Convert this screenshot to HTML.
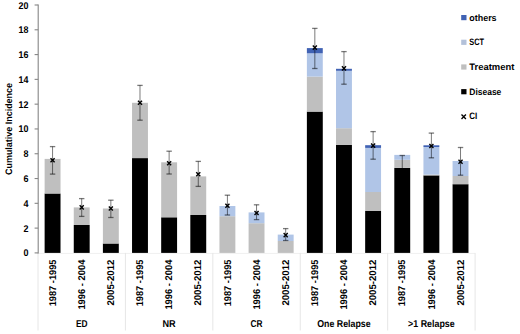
<!DOCTYPE html>
<html><head><meta charset="utf-8"><style>
html,body{margin:0;padding:0;background:#fff;}
body{width:520px;height:334px;overflow:hidden;font-family:"Liberation Sans",sans-serif;}
svg{display:block;text-rendering:geometricPrecision;}
</style></head><body>
<svg width="520" height="334" viewBox="0 0 520 334">
<rect x="0" y="0" width="520" height="334" fill="#ffffff"/>
<line x1="38.0" y1="253.40" x2="475.10" y2="253.40" stroke="#f0f0f0" stroke-width="1"/>
<line x1="38.00" y1="252.90" x2="38.00" y2="330.5" stroke="#e6e6e6" stroke-width="1"/>
<line x1="125.42" y1="252.90" x2="125.42" y2="330.5" stroke="#e6e6e6" stroke-width="1"/>
<line x1="212.84" y1="252.90" x2="212.84" y2="330.5" stroke="#e6e6e6" stroke-width="1"/>
<line x1="300.26" y1="252.90" x2="300.26" y2="330.5" stroke="#e6e6e6" stroke-width="1"/>
<line x1="387.68" y1="252.90" x2="387.68" y2="330.5" stroke="#e6e6e6" stroke-width="1"/>
<line x1="475.10" y1="252.90" x2="475.10" y2="330.5" stroke="#e6e6e6" stroke-width="1"/>
<rect x="44.62" y="193.50" width="15.90" height="59.40" fill="#000000"/>
<rect x="44.62" y="158.90" width="15.90" height="34.60" fill="#bfbfbf"/>
<rect x="73.76" y="225.00" width="15.90" height="27.90" fill="#000000"/>
<rect x="73.76" y="207.40" width="15.90" height="17.60" fill="#bfbfbf"/>
<rect x="102.90" y="243.50" width="15.90" height="9.40" fill="#000000"/>
<rect x="102.90" y="208.50" width="15.90" height="35.00" fill="#bfbfbf"/>
<rect x="132.04" y="158.10" width="15.90" height="94.80" fill="#000000"/>
<rect x="132.04" y="102.80" width="15.90" height="55.30" fill="#bfbfbf"/>
<rect x="161.18" y="217.30" width="15.90" height="35.60" fill="#000000"/>
<rect x="161.18" y="162.30" width="15.90" height="55.00" fill="#bfbfbf"/>
<rect x="190.32" y="215.00" width="15.90" height="37.90" fill="#000000"/>
<rect x="190.32" y="176.40" width="15.90" height="38.60" fill="#bfbfbf"/>
<rect x="219.46" y="216.20" width="15.90" height="36.70" fill="#bfbfbf"/>
<rect x="219.46" y="206.00" width="15.90" height="10.20" fill="#b0c5e7"/>
<rect x="248.60" y="223.20" width="15.90" height="29.70" fill="#bfbfbf"/>
<rect x="248.60" y="212.40" width="15.90" height="10.80" fill="#b0c5e7"/>
<rect x="277.74" y="241.00" width="15.90" height="11.90" fill="#bfbfbf"/>
<rect x="277.74" y="234.60" width="15.90" height="6.40" fill="#b0c5e7"/>
<rect x="306.88" y="111.60" width="15.90" height="141.30" fill="#000000"/>
<rect x="306.88" y="76.60" width="15.90" height="35.00" fill="#bfbfbf"/>
<rect x="306.88" y="53.30" width="15.90" height="23.30" fill="#b0c5e7"/>
<rect x="306.88" y="48.10" width="15.90" height="5.20" fill="#4062b4"/>
<rect x="336.02" y="144.80" width="15.90" height="108.10" fill="#000000"/>
<rect x="336.02" y="128.20" width="15.90" height="16.60" fill="#bfbfbf"/>
<rect x="336.02" y="70.80" width="15.90" height="57.40" fill="#b0c5e7"/>
<rect x="336.02" y="68.80" width="15.90" height="2.00" fill="#4062b4"/>
<rect x="365.16" y="211.00" width="15.90" height="41.90" fill="#000000"/>
<rect x="365.16" y="192.00" width="15.90" height="19.00" fill="#bfbfbf"/>
<rect x="365.16" y="147.90" width="15.90" height="44.10" fill="#b0c5e7"/>
<rect x="365.16" y="145.20" width="15.90" height="2.70" fill="#4062b4"/>
<rect x="394.30" y="167.90" width="15.90" height="85.00" fill="#000000"/>
<rect x="394.30" y="159.80" width="15.90" height="8.10" fill="#bfbfbf"/>
<rect x="394.30" y="154.90" width="15.90" height="4.90" fill="#b0c5e7"/>
<rect x="423.44" y="175.40" width="15.90" height="77.50" fill="#000000"/>
<rect x="423.44" y="174.60" width="15.90" height="0.80" fill="#bfbfbf"/>
<rect x="423.44" y="147.00" width="15.90" height="27.60" fill="#b0c5e7"/>
<rect x="423.44" y="145.30" width="15.90" height="1.70" fill="#4062b4"/>
<rect x="452.58" y="184.20" width="15.90" height="68.70" fill="#000000"/>
<rect x="452.58" y="176.00" width="15.90" height="8.20" fill="#bfbfbf"/>
<rect x="452.58" y="161.00" width="15.90" height="15.00" fill="#b0c5e7"/>
<line x1="52.57" y1="146.60" x2="52.57" y2="174.10" stroke="#000000" stroke-opacity="0.52" stroke-width="1"/>
<line x1="49.87" y1="146.60" x2="55.27" y2="146.60" stroke="#000000" stroke-opacity="0.52" stroke-width="1.3"/>
<line x1="49.87" y1="174.10" x2="55.27" y2="174.10" stroke="#000000" stroke-opacity="0.52" stroke-width="1.3"/>
<path d="M50.52,158.25L54.62,162.35M54.62,158.25L50.52,162.35" stroke="#000" stroke-width="1.35" fill="none"/>
<line x1="81.71" y1="198.60" x2="81.71" y2="216.40" stroke="#000000" stroke-opacity="0.52" stroke-width="1"/>
<line x1="79.01" y1="198.60" x2="84.41" y2="198.60" stroke="#000000" stroke-opacity="0.52" stroke-width="1.3"/>
<line x1="79.01" y1="216.40" x2="84.41" y2="216.40" stroke="#000000" stroke-opacity="0.52" stroke-width="1.3"/>
<path d="M79.66,205.35L83.76,209.45M83.76,205.35L79.66,209.45" stroke="#000" stroke-width="1.35" fill="none"/>
<line x1="110.85" y1="200.20" x2="110.85" y2="217.50" stroke="#000000" stroke-opacity="0.52" stroke-width="1"/>
<line x1="108.15" y1="200.20" x2="113.55" y2="200.20" stroke="#000000" stroke-opacity="0.52" stroke-width="1.3"/>
<line x1="108.15" y1="217.50" x2="113.55" y2="217.50" stroke="#000000" stroke-opacity="0.52" stroke-width="1.3"/>
<path d="M108.80,206.45L112.90,210.55M112.90,206.45L108.80,210.55" stroke="#000" stroke-width="1.35" fill="none"/>
<line x1="139.99" y1="85.40" x2="139.99" y2="120.20" stroke="#000000" stroke-opacity="0.52" stroke-width="1"/>
<line x1="137.29" y1="85.40" x2="142.69" y2="85.40" stroke="#000000" stroke-opacity="0.52" stroke-width="1.3"/>
<line x1="137.29" y1="120.20" x2="142.69" y2="120.20" stroke="#000000" stroke-opacity="0.52" stroke-width="1.3"/>
<path d="M137.94,100.75L142.04,104.85M142.04,100.75L137.94,104.85" stroke="#000" stroke-width="1.35" fill="none"/>
<line x1="169.13" y1="151.20" x2="169.13" y2="174.00" stroke="#000000" stroke-opacity="0.52" stroke-width="1"/>
<line x1="166.43" y1="151.20" x2="171.83" y2="151.20" stroke="#000000" stroke-opacity="0.52" stroke-width="1.3"/>
<line x1="166.43" y1="174.00" x2="171.83" y2="174.00" stroke="#000000" stroke-opacity="0.52" stroke-width="1.3"/>
<path d="M167.08,161.15L171.18,165.25M171.18,161.15L167.08,165.25" stroke="#000" stroke-width="1.35" fill="none"/>
<line x1="198.27" y1="161.40" x2="198.27" y2="186.40" stroke="#000000" stroke-opacity="0.52" stroke-width="1"/>
<line x1="195.57" y1="161.40" x2="200.97" y2="161.40" stroke="#000000" stroke-opacity="0.52" stroke-width="1.3"/>
<line x1="195.57" y1="186.40" x2="200.97" y2="186.40" stroke="#000000" stroke-opacity="0.52" stroke-width="1.3"/>
<path d="M196.22,172.25L200.32,176.35M200.32,172.25L196.22,176.35" stroke="#000" stroke-width="1.35" fill="none"/>
<line x1="227.41" y1="195.20" x2="227.41" y2="215.00" stroke="#000000" stroke-opacity="0.52" stroke-width="1"/>
<line x1="224.71" y1="195.20" x2="230.11" y2="195.20" stroke="#000000" stroke-opacity="0.52" stroke-width="1.3"/>
<line x1="224.71" y1="215.00" x2="230.11" y2="215.00" stroke="#000000" stroke-opacity="0.52" stroke-width="1.3"/>
<path d="M225.36,203.75L229.46,207.85M229.46,203.75L225.36,207.85" stroke="#000" stroke-width="1.35" fill="none"/>
<line x1="256.55" y1="204.80" x2="256.55" y2="219.60" stroke="#000000" stroke-opacity="0.52" stroke-width="1"/>
<line x1="253.85" y1="204.80" x2="259.25" y2="204.80" stroke="#000000" stroke-opacity="0.52" stroke-width="1.3"/>
<line x1="253.85" y1="219.60" x2="259.25" y2="219.60" stroke="#000000" stroke-opacity="0.52" stroke-width="1.3"/>
<path d="M254.50,210.95L258.60,215.05M258.60,210.95L254.50,215.05" stroke="#000" stroke-width="1.35" fill="none"/>
<line x1="285.69" y1="228.60" x2="285.69" y2="240.50" stroke="#000000" stroke-opacity="0.52" stroke-width="1"/>
<line x1="282.99" y1="228.60" x2="288.39" y2="228.60" stroke="#000000" stroke-opacity="0.52" stroke-width="1.3"/>
<line x1="282.99" y1="240.50" x2="288.39" y2="240.50" stroke="#000000" stroke-opacity="0.52" stroke-width="1.3"/>
<path d="M283.64,233.05L287.74,237.15M287.74,233.05L283.64,237.15" stroke="#000" stroke-width="1.35" fill="none"/>
<line x1="314.83" y1="28.40" x2="314.83" y2="68.50" stroke="#000000" stroke-opacity="0.52" stroke-width="1"/>
<line x1="312.13" y1="28.40" x2="317.53" y2="28.40" stroke="#000000" stroke-opacity="0.52" stroke-width="1.3"/>
<line x1="312.13" y1="68.50" x2="317.53" y2="68.50" stroke="#000000" stroke-opacity="0.52" stroke-width="1.3"/>
<path d="M312.78,45.55L316.88,49.65M316.88,45.55L312.78,49.65" stroke="#000" stroke-width="1.35" fill="none"/>
<line x1="343.97" y1="51.60" x2="343.97" y2="84.20" stroke="#000000" stroke-opacity="0.52" stroke-width="1"/>
<line x1="341.27" y1="51.60" x2="346.67" y2="51.60" stroke="#000000" stroke-opacity="0.52" stroke-width="1.3"/>
<line x1="341.27" y1="84.20" x2="346.67" y2="84.20" stroke="#000000" stroke-opacity="0.52" stroke-width="1.3"/>
<path d="M341.92,66.35L346.02,70.45M346.02,66.35L341.92,70.45" stroke="#000" stroke-width="1.35" fill="none"/>
<line x1="373.11" y1="131.60" x2="373.11" y2="159.20" stroke="#000000" stroke-opacity="0.52" stroke-width="1"/>
<line x1="370.41" y1="131.60" x2="375.81" y2="131.60" stroke="#000000" stroke-opacity="0.52" stroke-width="1.3"/>
<line x1="370.41" y1="159.20" x2="375.81" y2="159.20" stroke="#000000" stroke-opacity="0.52" stroke-width="1.3"/>
<path d="M371.06,143.55L375.16,147.65M375.16,143.55L371.06,147.65" stroke="#000" stroke-width="1.35" fill="none"/>
<line x1="402.25" y1="155.50" x2="402.25" y2="168.00" stroke="#000000" stroke-opacity="0.52" stroke-width="1"/>
<line x1="399.55" y1="155.50" x2="404.95" y2="155.50" stroke="#000000" stroke-opacity="0.52" stroke-width="1.3"/>
<line x1="431.39" y1="133.10" x2="431.39" y2="157.80" stroke="#000000" stroke-opacity="0.52" stroke-width="1"/>
<line x1="428.69" y1="133.10" x2="434.09" y2="133.10" stroke="#000000" stroke-opacity="0.52" stroke-width="1.3"/>
<line x1="428.69" y1="157.80" x2="434.09" y2="157.80" stroke="#000000" stroke-opacity="0.52" stroke-width="1.3"/>
<path d="M429.34,143.95L433.44,148.05M433.44,143.95L429.34,148.05" stroke="#000" stroke-width="1.35" fill="none"/>
<line x1="460.53" y1="147.50" x2="460.53" y2="175.20" stroke="#000000" stroke-opacity="0.52" stroke-width="1"/>
<line x1="457.83" y1="147.50" x2="463.23" y2="147.50" stroke="#000000" stroke-opacity="0.52" stroke-width="1.3"/>
<line x1="457.83" y1="175.20" x2="463.23" y2="175.20" stroke="#000000" stroke-opacity="0.52" stroke-width="1.3"/>
<path d="M458.48,159.65L462.58,163.75M462.58,159.65L458.48,163.75" stroke="#000" stroke-width="1.35" fill="none"/>
<line x1="38.2" y1="4.50" x2="38.2" y2="253.40" stroke="#868686" stroke-width="1.1"/>
<line x1="34.60" y1="252.90" x2="38.20" y2="252.90" stroke="#868686" stroke-width="1.1"/>
<text x="28.50" y="256.40" text-anchor="end" font-size="9.8" textLength="5.0" lengthAdjust="spacingAndGlyphs" font-family="Liberation Sans, sans-serif" font-weight="bold" fill="#000">0</text>
<line x1="34.60" y1="228.11" x2="38.20" y2="228.11" stroke="#868686" stroke-width="1.1"/>
<text x="28.50" y="231.61" text-anchor="end" font-size="9.8" textLength="5.0" lengthAdjust="spacingAndGlyphs" font-family="Liberation Sans, sans-serif" font-weight="bold" fill="#000">2</text>
<line x1="34.60" y1="203.32" x2="38.20" y2="203.32" stroke="#868686" stroke-width="1.1"/>
<text x="28.50" y="206.82" text-anchor="end" font-size="9.8" textLength="5.0" lengthAdjust="spacingAndGlyphs" font-family="Liberation Sans, sans-serif" font-weight="bold" fill="#000">4</text>
<line x1="34.60" y1="178.53" x2="38.20" y2="178.53" stroke="#868686" stroke-width="1.1"/>
<text x="28.50" y="182.03" text-anchor="end" font-size="9.8" textLength="5.0" lengthAdjust="spacingAndGlyphs" font-family="Liberation Sans, sans-serif" font-weight="bold" fill="#000">6</text>
<line x1="34.60" y1="153.74" x2="38.20" y2="153.74" stroke="#868686" stroke-width="1.1"/>
<text x="28.50" y="157.24" text-anchor="end" font-size="9.8" textLength="5.0" lengthAdjust="spacingAndGlyphs" font-family="Liberation Sans, sans-serif" font-weight="bold" fill="#000">8</text>
<line x1="34.60" y1="128.95" x2="38.20" y2="128.95" stroke="#868686" stroke-width="1.1"/>
<text x="28.50" y="132.45" text-anchor="end" font-size="9.8" textLength="9.9" lengthAdjust="spacingAndGlyphs" font-family="Liberation Sans, sans-serif" font-weight="bold" fill="#000">10</text>
<line x1="34.60" y1="104.16" x2="38.20" y2="104.16" stroke="#868686" stroke-width="1.1"/>
<text x="28.50" y="107.66" text-anchor="end" font-size="9.8" textLength="9.9" lengthAdjust="spacingAndGlyphs" font-family="Liberation Sans, sans-serif" font-weight="bold" fill="#000">12</text>
<line x1="34.60" y1="79.37" x2="38.20" y2="79.37" stroke="#868686" stroke-width="1.1"/>
<text x="28.50" y="82.87" text-anchor="end" font-size="9.8" textLength="9.9" lengthAdjust="spacingAndGlyphs" font-family="Liberation Sans, sans-serif" font-weight="bold" fill="#000">14</text>
<line x1="34.60" y1="54.58" x2="38.20" y2="54.58" stroke="#868686" stroke-width="1.1"/>
<text x="28.50" y="58.08" text-anchor="end" font-size="9.8" textLength="9.9" lengthAdjust="spacingAndGlyphs" font-family="Liberation Sans, sans-serif" font-weight="bold" fill="#000">16</text>
<line x1="34.60" y1="29.79" x2="38.20" y2="29.79" stroke="#868686" stroke-width="1.1"/>
<text x="28.50" y="33.29" text-anchor="end" font-size="9.8" textLength="9.9" lengthAdjust="spacingAndGlyphs" font-family="Liberation Sans, sans-serif" font-weight="bold" fill="#000">18</text>
<line x1="34.60" y1="5.00" x2="38.20" y2="5.00" stroke="#868686" stroke-width="1.1"/>
<text x="28.50" y="8.50" text-anchor="end" font-size="9.8" textLength="9.9" lengthAdjust="spacingAndGlyphs" font-family="Liberation Sans, sans-serif" font-weight="bold" fill="#000">20</text>
<text transform="translate(12.3,129.0) rotate(-90)" text-anchor="middle" font-size="9.4" textLength="92.0" lengthAdjust="spacingAndGlyphs" font-family="Liberation Sans, sans-serif" font-weight="bold" fill="#000">Cumulative Incidence</text>
<text transform="translate(55.77,259.6) rotate(-90)" text-anchor="end" font-size="9.8" textLength="46.7" lengthAdjust="spacingAndGlyphs" font-family="Liberation Sans, sans-serif" font-weight="bold" fill="#000">1987 -1995</text>
<text transform="translate(84.91,259.6) rotate(-90)" text-anchor="end" font-size="9.8" textLength="50.0" lengthAdjust="spacingAndGlyphs" font-family="Liberation Sans, sans-serif" font-weight="bold" fill="#000">1996 - 2004</text>
<text transform="translate(114.05,259.6) rotate(-90)" text-anchor="end" font-size="9.8" textLength="46.0" lengthAdjust="spacingAndGlyphs" font-family="Liberation Sans, sans-serif" font-weight="bold" fill="#000">2005-2012</text>
<text transform="translate(143.19,259.6) rotate(-90)" text-anchor="end" font-size="9.8" textLength="46.7" lengthAdjust="spacingAndGlyphs" font-family="Liberation Sans, sans-serif" font-weight="bold" fill="#000">1987 -1995</text>
<text transform="translate(172.33,259.6) rotate(-90)" text-anchor="end" font-size="9.8" textLength="50.0" lengthAdjust="spacingAndGlyphs" font-family="Liberation Sans, sans-serif" font-weight="bold" fill="#000">1996 - 2004</text>
<text transform="translate(201.47,259.6) rotate(-90)" text-anchor="end" font-size="9.8" textLength="46.0" lengthAdjust="spacingAndGlyphs" font-family="Liberation Sans, sans-serif" font-weight="bold" fill="#000">2005-2012</text>
<text transform="translate(230.61,259.6) rotate(-90)" text-anchor="end" font-size="9.8" textLength="46.7" lengthAdjust="spacingAndGlyphs" font-family="Liberation Sans, sans-serif" font-weight="bold" fill="#000">1987 -1995</text>
<text transform="translate(259.75,259.6) rotate(-90)" text-anchor="end" font-size="9.8" textLength="50.0" lengthAdjust="spacingAndGlyphs" font-family="Liberation Sans, sans-serif" font-weight="bold" fill="#000">1996 - 2004</text>
<text transform="translate(288.89,259.6) rotate(-90)" text-anchor="end" font-size="9.8" textLength="46.0" lengthAdjust="spacingAndGlyphs" font-family="Liberation Sans, sans-serif" font-weight="bold" fill="#000">2005-2012</text>
<text transform="translate(318.03,259.6) rotate(-90)" text-anchor="end" font-size="9.8" textLength="46.7" lengthAdjust="spacingAndGlyphs" font-family="Liberation Sans, sans-serif" font-weight="bold" fill="#000">1987 -1995</text>
<text transform="translate(347.17,259.6) rotate(-90)" text-anchor="end" font-size="9.8" textLength="50.0" lengthAdjust="spacingAndGlyphs" font-family="Liberation Sans, sans-serif" font-weight="bold" fill="#000">1996 - 2004</text>
<text transform="translate(376.31,259.6) rotate(-90)" text-anchor="end" font-size="9.8" textLength="46.0" lengthAdjust="spacingAndGlyphs" font-family="Liberation Sans, sans-serif" font-weight="bold" fill="#000">2005-2012</text>
<text transform="translate(405.45,259.6) rotate(-90)" text-anchor="end" font-size="9.8" textLength="46.7" lengthAdjust="spacingAndGlyphs" font-family="Liberation Sans, sans-serif" font-weight="bold" fill="#000">1987 -1995</text>
<text transform="translate(434.59,259.6) rotate(-90)" text-anchor="end" font-size="9.8" textLength="50.0" lengthAdjust="spacingAndGlyphs" font-family="Liberation Sans, sans-serif" font-weight="bold" fill="#000">1996 - 2004</text>
<text transform="translate(463.73,259.6) rotate(-90)" text-anchor="end" font-size="9.8" textLength="46.0" lengthAdjust="spacingAndGlyphs" font-family="Liberation Sans, sans-serif" font-weight="bold" fill="#000">2005-2012</text>
<text x="81.71" y="326.70" text-anchor="middle" font-size="10.0" textLength="11.6" lengthAdjust="spacingAndGlyphs" font-family="Liberation Sans, sans-serif" font-weight="bold" fill="#000">ED</text>
<text x="169.13" y="326.70" text-anchor="middle" font-size="10.0" textLength="13.2" lengthAdjust="spacingAndGlyphs" font-family="Liberation Sans, sans-serif" font-weight="bold" fill="#000">NR</text>
<text x="256.55" y="326.70" text-anchor="middle" font-size="10.0" textLength="12.0" lengthAdjust="spacingAndGlyphs" font-family="Liberation Sans, sans-serif" font-weight="bold" fill="#000">CR</text>
<text x="343.97" y="326.70" text-anchor="middle" font-size="10.0" textLength="53.4" lengthAdjust="spacingAndGlyphs" font-family="Liberation Sans, sans-serif" font-weight="bold" fill="#000">One Relapse</text>
<text x="431.39" y="326.70" text-anchor="middle" font-size="10.0" textLength="46.6" lengthAdjust="spacingAndGlyphs" font-family="Liberation Sans, sans-serif" font-weight="bold" fill="#000">&gt;1 Relapse</text>
<rect x="461.2" y="15.00" width="5.3" height="5.2" fill="#4062b4"/>
<text x="469.30" y="20.50" font-size="9.3" textLength="27.3" lengthAdjust="spacingAndGlyphs" font-family="Liberation Sans, sans-serif" font-weight="bold" fill="#000">others</text>
<rect x="461.2" y="39.70" width="5.3" height="5.2" fill="#b3c1da"/>
<text x="469.30" y="45.20" font-size="9.3" textLength="14.8" lengthAdjust="spacingAndGlyphs" font-family="Liberation Sans, sans-serif" font-weight="bold" fill="#000">SCT</text>
<rect x="461.2" y="64.40" width="5.3" height="5.2" fill="#bfbfbf"/>
<text x="469.30" y="69.90" font-size="9.3" textLength="45.0" lengthAdjust="spacingAndGlyphs" font-family="Liberation Sans, sans-serif" font-weight="bold" fill="#000">Treatment</text>
<rect x="461.2" y="89.10" width="5.3" height="5.2" fill="#000000"/>
<text x="469.30" y="94.60" font-size="9.3" textLength="32.0" lengthAdjust="spacingAndGlyphs" font-family="Liberation Sans, sans-serif" font-weight="bold" fill="#000">Disease</text>
<path d="M461.5,114.50L465.9,118.90M465.9,114.50L461.5,118.90" stroke="#000" stroke-width="1.35" fill="none"/>
<text x="469.30" y="119.30" font-size="9.3" textLength="8.0" lengthAdjust="spacingAndGlyphs" font-family="Liberation Sans, sans-serif" font-weight="bold" fill="#000">CI</text>
</svg>
</body></html>
